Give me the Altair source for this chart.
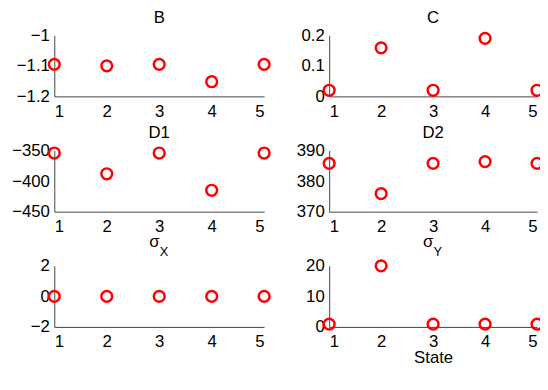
import altair as alt
import pandas as pd

states = [1, 2, 3, 4, 5]
x_ticks = [1, 2, 3, 4, 5]

B = [-1.095, -1.100, -1.095, -1.152, -1.095]
C = [0.020, 0.159, 0.020, 0.190, 0.020]
D1 = [-354, -388, -354, -415, -354]
D2 = [385.8, 375.9, 385.8, 386.4, 385.8]
sigma_x = [0, 0, 0, 0, 0]
sigma_y = [0.9, 20, 0.9, 0.9, 0.9]

FONT = "Liberation Sans"
RED = "#ff0000"
H = 62


def panel(values, domain, ticks, title, width, sub=None, xtitle=None):
    df = pd.DataFrame({"State": states, "v": values})
    xenc = alt.X(
        "State:Q",
        scale=alt.Scale(domain=[1, 5], nice=False, zero=False),
        axis=alt.Axis(values=x_ticks, format="d", title=xtitle if xtitle else None,
                      titleFontSize=17, titleFontWeight="normal", titlePadding=0),
    )
    yenc = alt.Y(
        "v:Q",
        scale=alt.Scale(domain=domain, nice=False, zero=False),
        axis=alt.Axis(values=ticks, format="~r", title=None),
    )
    pts = alt.Chart(df).mark_point(
        shape="circle", filled=False, color=RED, strokeWidth=2.5, size=120,
        opacity=1, clip=False,
    ).encode(x=xenc, y=yenc)
    tdf = pd.DataFrame({"t": [title]})
    if sub is None:
        ttl = alt.Chart(tdf).mark_text(
            align="center", baseline="alphabetic", fontSize=17, font=FONT,
            color="black", clip=False,
        ).encode(text="t:N", x=alt.value(width / 2), y=alt.value(-13))
        layers = [pts, ttl]
    else:
        ttl = alt.Chart(tdf).mark_text(
            align="center", baseline="alphabetic", fontSize=17, font=FONT,
            color="black", clip=False,
        ).encode(text="t:N", x=alt.value(width / 2 - 5), y=alt.value(-19))
        subdf = pd.DataFrame({"s": [sub]})
        subtxt = alt.Chart(subdf).mark_text(
            align="left", baseline="alphabetic", fontSize=13, font=FONT,
            color="black", clip=False,
        ).encode(text="s:N", x=alt.value(width / 2 + 0.5), y=alt.value(-10))
        layers = [pts, ttl, subtxt]
    return alt.layer(*layers).properties(width=width, height=H)


WL, WR = 213, 211
charts = [
    panel(B, [-1.2, -1.0], [-1.2, -1.1, -1.0], "B", WL),
    panel(C, [0, 0.2], [0, 0.1, 0.2], "C", WR),
    panel(D1, [-450, -350], [-450, -400, -350], "D1", WL),
    panel(D2, [370, 390], [370, 380, 390], "D2", WR),
    panel(sigma_x, [-2, 2], [-2, 0, 2], "σ", WL, sub="X"),
    panel(sigma_y, [0, 20], [0, 10, 20], "σ", WR, sub="Y", xtitle="State"),
]

chart = alt.concat(
    *charts, columns=2, spacing=alt.RowColnumber(row=55, column=66)
).properties(
    bounds="flush",
    autosize=alt.AutoSizeParams(type="none"),
    padding={"left": 47, "top": 25, "right": 493, "bottom": 337},
).configure_view(
    stroke=None
).configure_axis(
    grid=False, ticks=False, domainColor="#444444", domainWidth=1,
    labelFont=FONT, labelFontSize=17, labelColor="black",
    titleFont=FONT, titleColor="black",
).configure_axisX(
    labelPadding=7,
).configure_axisY(
    labelPadding=5,
)

chart.save("out.html", embed_options={"renderer": "svg", "actions": False})
